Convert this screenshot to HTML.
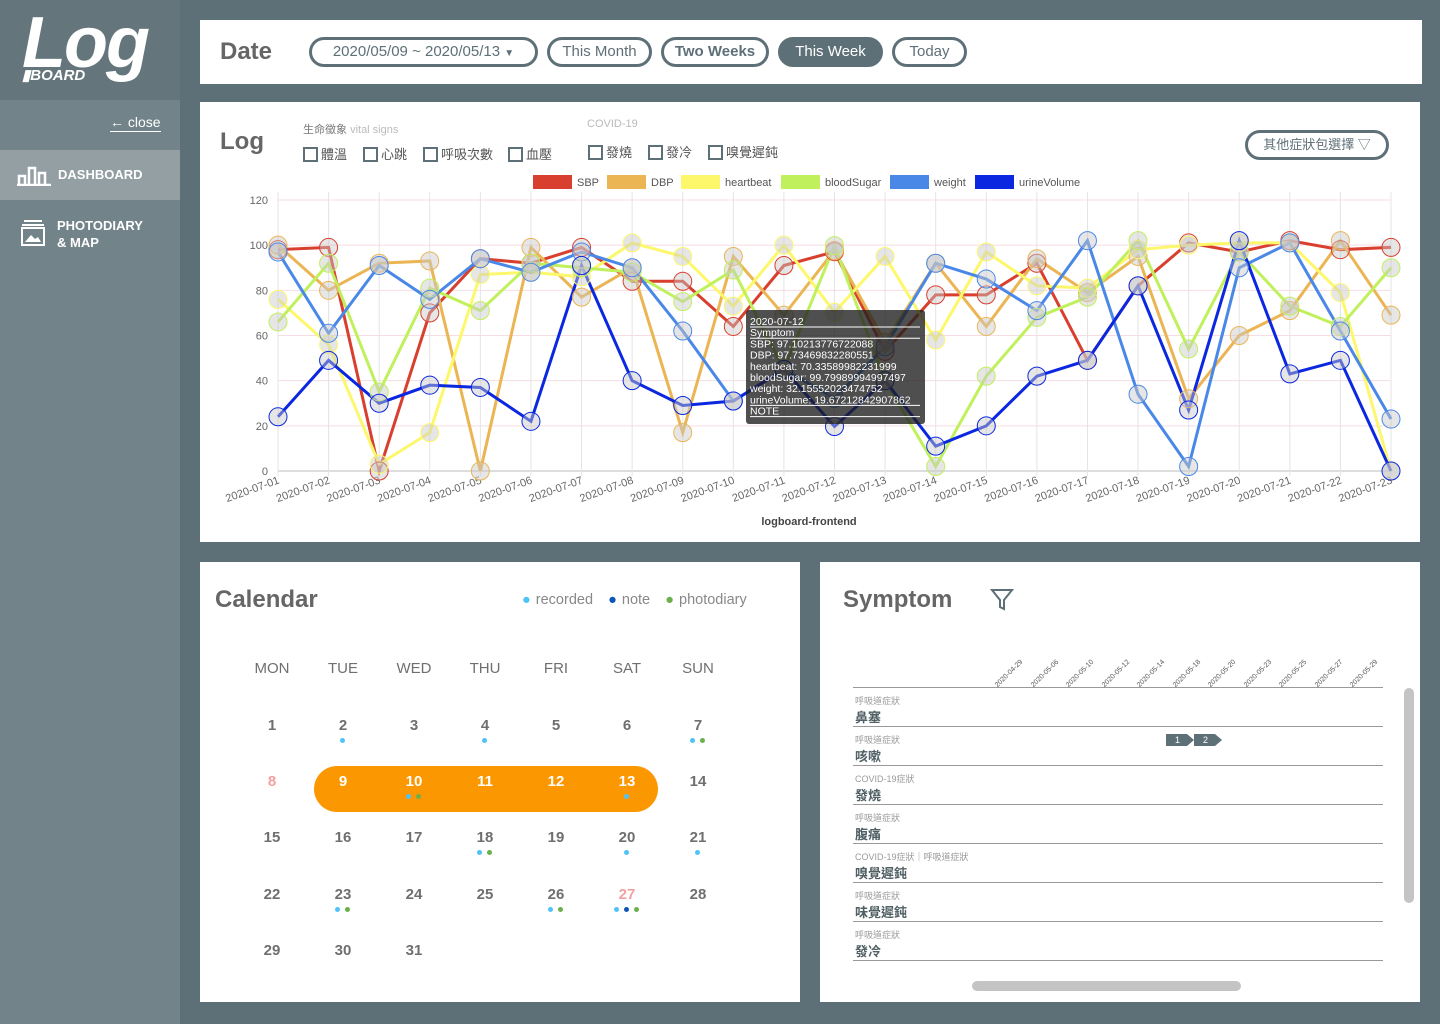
<!DOCTYPE html>
<html><head><meta charset="utf-8">
<style>
*{box-sizing:border-box;margin:0;padding:0}
body{width:1440px;height:1024px;background:#5e7077;font-family:"Liberation Sans","Noto Sans CJK TC",sans-serif;position:relative;overflow:hidden;color:#5d6d72}
.abs{position:absolute}
.panel{position:absolute;background:#fff}
.btn{position:absolute;top:17px;height:30px;border:3px solid #5e7077;border-radius:16px;font-size:15px;line-height:24px;text-align:center;color:#5e7077;background:#fff}
.cb{display:inline-block;width:15px;height:15px;border:2px solid #5e7077;vertical-align:-3px;margin-right:3px}
.opt{position:absolute;top:42px;font-size:13px;color:#555}
.cal{position:absolute;width:40px;margin-left:-20px;text-align:center;font-size:15px;font-weight:bold;color:#6f6f6f}
.dot{position:absolute;width:5px;height:5px;border-radius:50%}
.cat{position:absolute;left:35px;font-size:9px;color:#9a9a9a}
.nm{position:absolute;left:35px;font-size:13px;font-weight:bold;color:#4f5f64}
.rl{position:absolute;left:33px;width:530px;height:1px;background:#999}
</style></head><body>
<div class="abs" style="left:0;top:0;width:180px;height:1024px;background:#728389">
  <div class="abs" style="left:0;top:0;width:180px;height:100px;background:#64767c">
    <div class="abs" style="left:22px;top:2px;font-size:72px;font-weight:bold;font-style:italic;color:#fff;letter-spacing:-2px">Log</div>
    <div class="abs" style="left:22px;top:66px;font-size:15px;font-weight:bold;font-style:italic;color:#fff">▮BOARD</div>
  </div>
  <div class="abs" style="left:110px;top:114px;font-size:14px;color:#fff;border-bottom:1px solid #fff;padding-bottom:1px">← close</div>
  <div class="abs" style="left:0;top:150px;width:180px;height:50px;background:#939fa3;color:#fff;font-size:13px;font-weight:bold;line-height:50px;padding-left:58px">DASHBOARD
    <svg class="abs" style="left:16px;top:14px" width="36" height="22"><path d="M1 21H35M3 21V12H9V21M13 21V4H19V21M23 21V9H29V21" stroke="#fff" stroke-width="2.5" fill="none"/></svg></div>
  <div class="abs" style="left:57px;top:217px;color:#fff;font-size:13px;font-weight:bold;line-height:17px">PHOTODIARY<br>&amp; MAP</div>
  <svg class="abs" style="left:20px;top:219px" width="26" height="28"><path d="M4 2H22M2 6H24" stroke="#fff" stroke-width="2"/><rect x="2" y="9" width="22" height="17" stroke="#fff" stroke-width="2" fill="none"/><path d="M5 23L11 16L15 20L18 18L21 23Z" fill="#fff"/></svg>
</div>

<div class="panel" style="left:200px;top:20px;width:1222px;height:64px">
  <div class="abs" style="left:20px;top:18px;font-size:24px;font-weight:bold;color:#666">Date</div>
  <div class="btn" style="left:109px;width:229px">2020/05/09 ~ 2020/05/13 <span style="font-size:10px">▼</span></div>
  <div class="btn" style="left:347px;width:105px">This Month</div>
  <div class="btn" style="left:461px;width:108px;font-weight:bold">Two Weeks</div>
  <div class="btn" style="left:578px;width:105px;background:#5e7077;color:#fff">This Week</div>
  <div class="btn" style="left:692px;width:75px">Today</div>
</div>

<div class="panel" style="left:200px;top:102px;width:1220px;height:440px">
  <div class="abs" style="left:20px;top:26px;font-size:24px;font-weight:bold;color:#666">Log</div>
  <div class="abs" style="left:103px;top:19px;font-size:11px;color:#777">生命徵象 <span style="color:#bbb">vital signs</span></div>
  <div class="opt" style="left:103px"><span class="cb"></span>體溫</div>
  <div class="opt" style="left:163px"><span class="cb"></span>心跳</div>
  <div class="opt" style="left:223px"><span class="cb"></span>呼吸次數</div>
  <div class="opt" style="left:308px"><span class="cb"></span>血壓</div>
  <div class="abs" style="left:387px;top:16px;font-size:11px;color:#bbb">COVID-19</div>
  <div class="opt" style="left:388px;top:40px"><span class="cb"></span>發燒</div>
  <div class="opt" style="left:448px;top:40px"><span class="cb"></span>發冷</div>
  <div class="opt" style="left:508px;top:40px"><span class="cb"></span>嗅覺遲鈍</div>
  <div class="btn" style="left:1045px;top:28px;width:144px;height:30px;font-size:13px">其他症狀包選擇 ▽</div>
</div>

<svg class="abs" style="left:0;top:0" width="1440" height="1024" id="chart"></svg>

<div class="panel" style="left:200px;top:562px;width:600px;height:440px">
  <div class="abs" style="left:15px;top:24px;font-size:24px;font-weight:bold;color:#666">Calendar</div>
  <div class="abs" style="left:322px;top:30px;font-size:14.5px;color:#888;word-spacing:1px">
    <span style="color:#4fc3f7">●</span> recorded &nbsp;&nbsp;<span style="color:#0d56b8">●</span> note &nbsp;&nbsp;<span style="color:#6ab04c">●</span> photodiary</div>
  <div class="abs" style="left:114px;top:204px;width:344px;height:46px;background:#fb9700;border-radius:23px"></div>
  <div id="cal"></div>
</div>

<div class="panel" style="left:820px;top:562px;width:600px;height:440px">
  <div class="abs" style="left:23px;top:24px;font-size:24px;font-weight:bold;color:#666">Symptom</div>
  <svg class="abs" style="left:170px;top:26px" width="24" height="24"><path d="M2 2H22L14 12V21L10 19V12Z" stroke="#5e7077" stroke-width="2" fill="none"/></svg>
  <div id="sym"></div>
  <div class="abs" style="left:584px;top:126px;width:10px;height:215px;background:#c4c4c4;border-radius:5px"></div>
  <div class="abs" style="left:152px;top:419px;width:269px;height:10px;background:#c4c4c4;border-radius:5px"></div>
</div>

<script>
const dates=["2020-07-01","2020-07-02","2020-07-03","2020-07-04","2020-07-05","2020-07-06","2020-07-07","2020-07-08","2020-07-09","2020-07-10","2020-07-11","2020-07-12","2020-07-13","2020-07-14","2020-07-15","2020-07-16","2020-07-17","2020-07-18","2020-07-19","2020-07-20","2020-07-21","2020-07-22","2020-07-23"];
const sbp=[98,99,0,70,94,92,99,84,84,64,91,97.1,53,78,78,92,49,82,101,97,102,98,99];
const dbp=[100,80,92,93,0,99,77,90,17,95,69,97.7,57,92,64,94,79,95,32,60,71,102,69];
const heartbeat=[76,56,3,17,87,88,86,101,95,73,100,70.3,95,58,97,82,81,98,100,101,101,79,0];
const bloodSugar=[66,92,35,81,71,92,90,88,75,89,45,99.8,40,2,42,68,77,102,54,97,73,64,90];
const weight=[97,61,91,76,94,88,97,90,62,31,45,32.2,55,92,85,71,102,34,2,90,101,62,23];
const urineVolume=[24,49,30,38,37,22,91,40,29,31,45,19.7,40,11,20,42,49,82,27,102,43,49,0];
const yTicks=[0,20,40,60,80,100,120];
const seriesNames=["SBP","DBP","heartbeat","bloodSugar","weight","urineVolume"];
const seriesColors=["#d93f2e","#ebb554","#fdf76b","#c0f05c","#4a88e8","#0b28e0"];
const seriesData=[sbp,dbp,heartbeat,bloodSugar,weight,urineVolume];

const NS="http://www.w3.org/2000/svg";
const svg=document.getElementById('chart');
const X0=278,X1=1391,Y0=471,Y1=200,YMAX=120;
const xs=i=>X0+i*(X1-X0)/(dates.length-1);
const ys=v=>Y0-v*(Y0-Y1)/YMAX;
function mk(tag,a){const e=document.createElementNS(NS,tag);for(const k in a)e.setAttribute(k,a[k]);svg.appendChild(e);return e;}
yTicks.forEach(t=>{
  const l=mk('line',{x1:X0,x2:X1,y1:ys(t),y2:ys(t),stroke:t===0?'#bbb':'#f6dde2','stroke-width':1});
  
  
  const tx=mk('text',{x:268,y:ys(t)+4,'text-anchor':'end','font-size':11,fill:'#666','font-family':'Liberation Sans'});
  tx.textContent=t;
  
  
});
dates.forEach((d,i)=>{
  const l=mk('line',{x1:xs(i),x2:xs(i),y1:Y1-8,y2:Y0+5,stroke:'#e4e4e4','stroke-width':1});
  
  
  const tx=mk('text',{x:xs(i)+2,y:Y0+12,'text-anchor':'end','font-size':11,fill:'#666','font-family':'Liberation Sans',transform:`rotate(-20 ${xs(i)+2} ${Y0+12})`});
  tx.textContent=d;
  
  
});
const lg=[533,607,681,781,890,975];
seriesNames.forEach((n,s)=>{
  const r=mk('rect',{x:lg[s],y:175,width:39,height:14,fill:seriesColors[s]});
  
  
  const t=mk('text',{x:lg[s]+44,y:186,'font-size':11,fill:'#555','font-family':'Liberation Sans'});
  t.textContent=n;
  
  
});
seriesData.forEach((arr,s)=>{
  const p=mk('polyline',{points:arr.map((v,i)=>xs(i)+','+ys(v)).join(' '),fill:'none',stroke:seriesColors[s],'stroke-width':3});
  
  
});
seriesData.forEach((arr,s)=>{
  arr.forEach((v,i)=>{
    const c=mk('circle',{cx:xs(i),cy:ys(v),r:9,fill:'rgba(200,200,200,0.45)',stroke:seriesColors[s],'stroke-width':1});
    
    
  });
});
const tt=mk('rect',{x:746,y:310,width:179,height:114,rx:3,fill:'rgba(30,30,30,0.78)'});


const ttl=["2020-07-12","Symptom","SBP: 97.10213776722088","DBP: 97.73469832280551","heartbeat: 70.33589982231999","bloodSugar: 99.79989994997497","weight: 32.15552023474752","urineVolume: 19.67212842907862","NOTE"];
ttl.forEach((t,k)=>{
  const e=mk('text',{x:750,y:325+k*11.2,'font-size':10.5,fill:'#fff','font-family':'Liberation Sans'});
  e.textContent=t;
  
  
  if(k<2||k>=7){const u=mk('line',{x1:750,x2:920,y1:327+k*11.2,y2:327+k*11.2,stroke:'#fff','stroke-width':1});}
});
const cap=mk('text',{x:809,y:525,'text-anchor':'middle','font-size':11,'font-weight':'bold',fill:'#444','font-family':'Liberation Sans'});
cap.textContent='logboard-frontend';



const cal=document.getElementById('cal');
const colX=[72,143,214,285,356,427,498];
const days=["MON","TUE","WED","THU","FRI","SAT","SUN"];
const rowY=[163,219,275,332,388];
days.forEach((d,i)=>{const e=document.createElement('div');e.className='cal';e.style.cssText=`left:${colX[i]}px;top:98px;font-weight:normal;font-size:15px;width:50px;margin-left:-25px`;e.textContent=d;


cal.appendChild(e);});
const dots={2:['r'],4:['r'],7:['r','p'],10:['r','p'],13:['r'],18:['r','p'],20:['r'],21:['r'],23:['r','p'],26:['r','p'],27:['r','n','p']};
const dc={r:'#4fc3f7',n:'#0d56b8',p:'#6ab04c'};
for(let d=1;d<=31;d++){
  const i=(d-1)%7,r=Math.floor((d-1)/7);
  const e=document.createElement('div');e.className='cal';
  let col='#6f6f6f';if(d===8||d===27)col='#f4a0a0';if(d>=9&&d<=13)col='#fff';
  e.style.cssText=`left:${colX[i]}px;top:${rowY[r]-8}px;color:${col}`;e.textContent=d;
  
  
  cal.appendChild(e);
  const ds=dots[d]||[];
  ds.forEach((k,j)=>{const o=document.createElement('div');o.className='dot';o.style.cssText=`left:${colX[i]-ds.length*5+j*10+2}px;top:${rowY[r]+13}px;background:${dc[k]}`;
  
  
  cal.appendChild(o);});
}
const sym=document.getElementById('sym');
const sd=["2020-04-29","2020-05-06","2020-05-10","2020-05-12","2020-05-14","2020-05-18","2020-05-20","2020-05-23","2020-05-25","2020-05-27","2020-05-29"];
sd.forEach((d,i)=>{const e=document.createElement('div');e.className='abs';e.style.cssText=`left:${174+i*35.5}px;top:122px;font-size:7px;color:#555;transform:rotate(-45deg);transform-origin:left top;white-space:nowrap;font-family:'Liberation Sans'`;e.textContent=d;


sym.appendChild(e);});
const rows=[["呼吸道症狀","鼻塞"],["呼吸道症狀","咳嗽"],["COVID-19症狀","發燒"],["呼吸道症狀","腹痛"],["COVID-19症狀｜呼吸道症狀","嗅覺遲鈍"],["呼吸道症狀","味覺遲鈍"],["呼吸道症狀","發冷"]];
const l0=document.createElement('div');l0.className='rl';l0.style.top='125px';sym.appendChild(l0);
rows.forEach((r,k)=>{const t=132+k*39;
  const a=document.createElement('div');a.className='cat';a.style.top=t+'px';a.textContent=r[0];sym.appendChild(a);
  const b=document.createElement('div');b.className='nm';b.style.top=(t+13)+'px';b.textContent=r[1];sym.appendChild(b);
  const l=document.createElement('div');l.className='rl';l.style.top=(t+32)+'px';sym.appendChild(l);
});
[[346,'1'],[374,'2']].forEach(([x,t])=>{const e=document.createElement('div');e.className='abs';e.style.cssText=`left:${x}px;top:172px;width:28px;height:12px;background:#5e7077;color:#fff;font-size:9px;line-height:12px;padding-left:9px;clip-path:polygon(0 0,75% 0,100% 50%,75% 100%,0 100%)`;e.textContent=t;


sym.appendChild(e);});
</script>
</body></html>
